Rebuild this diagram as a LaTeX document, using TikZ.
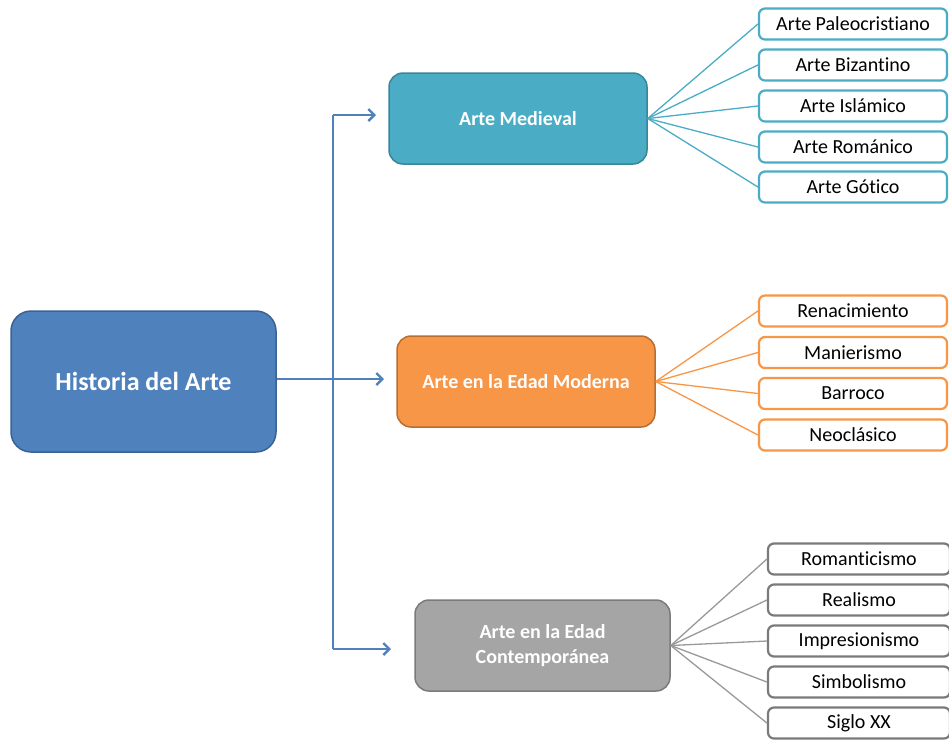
\documentclass[tikz,border=0pt]{standalone}
\usepackage{fontspec}
\setmainfont{Carlito}[Ligatures={NoCommon}]
\usetikzlibrary{arrows.meta}
\definecolor{rootfill}{HTML}{4F81BD}
\definecolor{rootline}{HTML}{3B6294}
\definecolor{medfill}{HTML}{4BACC6}
\definecolor{medline}{HTML}{3A8699}
\definecolor{modfill}{HTML}{F79646}
\definecolor{modline}{HTML}{B86E30}
\definecolor{confill}{HTML}{A5A5A5}
\definecolor{conline}{HTML}{7A7A7A}
\definecolor{conchild}{HTML}{999999}
\definecolor{arrowcol}{HTML}{4F81BD}
\tikzset{
  mainbox/.style={rectangle, rounded corners=14pt, line width=1.5pt, text=white,
    font=\fontsize{20}{25}\selectfont\bfseries, align=center, inner sep=0pt},
  childbox/.style={rectangle, rounded corners=6pt, line width=2.2pt, fill=white,
    text=black, font=\fontsize{20}{24}\selectfont, minimum height=31pt, inner sep=0pt},
  fan/.style={line width=1.3pt},
  conn/.style={draw=arrowcol, line width=2.2pt},
  arr/.style={conn, -{Straight Barb[length=6pt,width=12pt,line width=2.4pt]}}
}
\begin{document}
\begin{tikzpicture}[x=1pt,y=-1pt]
\useasboundingbox (0,0) rectangle (949,740);
% root
\node[mainbox, rounded corners=20pt, fill=rootfill, draw=rootline,
  minimum width=265pt, minimum height=141pt,
  font=\fontsize{26}{30}\selectfont\bfseries] (root) at (143.5,381.5) {Historia del Arte};
% level 1
\node[mainbox, fill=medfill, draw=medline, minimum width=258pt, minimum height=91pt] (med) at (518,118.5) {Arte Medieval};
\node[mainbox, fill=modfill, draw=modline, minimum width=258pt, minimum height=91pt] (mod) at (526,381.5) {Arte en la Edad Moderna};
\node[mainbox, fill=confill, draw=conline, minimum width=255pt, minimum height=91pt] (con) at (542.5,645.5) {Arte en la Edad\\Contemporánea};
% connectors
\coordinate (j1) at (333,115);
\coordinate (j3) at (333,649);
\coordinate (t1) at (376,115);
\coordinate (t2) at (384,379);
\coordinate (t3) at (391,649);
\draw[conn] (j1) -- (j3);
\draw[arr] (j1) -- (t1);
\draw[arr] (root.east |- t2) -- (t2);
\draw[arr] (j3) -- (t3);
% medieval children
\foreach \n/\y/\t in {m1/24/Arte Paleocristiano, m2/65/Arte Bizantino, m3/106/Arte Islámico, m4/147/Arte Románico, m5/187/Arte Gótico}{
  \node[childbox, draw=medfill, minimum width=188pt] (\n) at (853,\y) {\t};
  \draw[fan, draw=medfill] (med.east) -- (\n.west);
}
% modern children
\foreach \n/\y/\t in {r1/311/Renacimiento, r2/352.5/Manierismo, r3/393.5/Barroco, r4/435/Neoclásico}{
  \node[childbox, draw=modfill, minimum width=188pt] (\n) at (853,\y) {\t};
  \draw[fan, draw=modfill] (mod.east) -- (\n.west);
}
% contemporary children
\foreach \n/\y/\t in {c1/559/Romanticismo, c2/600/Realismo, c3/641/Impresionismo, c4/682/Simbolismo, c5/723/Siglo XX}{
  \node[childbox, draw=conline, minimum width=182pt] (\n) at (859,\y) {\t};
  \draw[fan, draw=conchild] (con.east) -- (\n.west);
}
\end{tikzpicture}
\end{document}
